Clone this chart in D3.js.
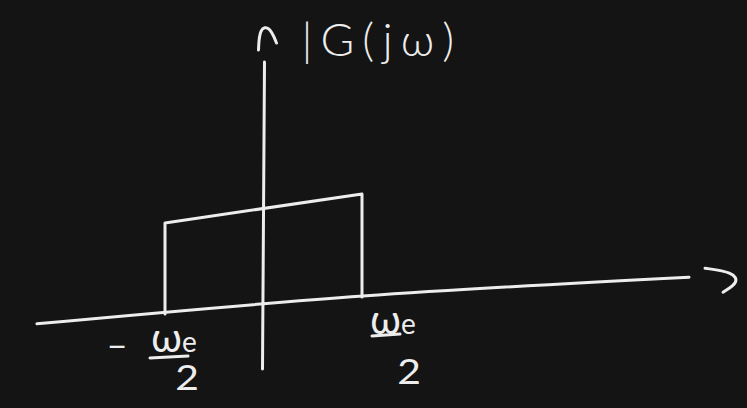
<!DOCTYPE html>
<html><head><meta charset="utf-8">
<script src="https://cdn.jsdelivr.net/npm/d3@7"></script>
<style>html,body{margin:0;padding:0;background:#141414;}svg{display:block;}</style>
</head><body>
<script>
// ---- data ----
const edgeFreqs = [-0.5, 0.5];          // band edges, in units of ω_e
const edgeMags  = [0.88, 1.03];         // drawn height of |G(jω)| at each edge
const xAxisExtent = [-1.15, 2.16];      // frequency span of the horizontal axis
const xAxisSag = [-0.04, 0.01, -0.03];  // hand-drawn droop of the axis at left / middle / right
const yAxisExtent = [-0.65, 2.42];      // magnitude span of the vertical axis
const edgeLabels = ["−", ""];           // sign in front of each edge label
const labelNum = "ω", labelSub = "e", labelDen = "2";
const axisLabel = "|G(jω)";

const W = 747, H = 408, ink = "#ededed", skew = -0.07;
const font = "Lato, 'DejaVu Sans', sans-serif";
const svg = d3.select("body").append("svg").attr("width", W).attr("height", H);
svg.append("rect").attr("width", W).attr("height", H).attr("fill", "#141414");

const x = d3.scaleLinear().domain([-0.5, 0.5]).range([165, 362]);
const y = d3.scaleLinear().domain([0, 1]).range([304, 204]);
const P = (f, m) => [x(f), y(m) + skew * (x(f) - x(0))];
const line = d3.line();
const g = svg.append("g").attr("fill", "none").attr("stroke", ink)
  .attr("stroke-width", 3).attr("stroke-linecap", "round").attr("stroke-linejoin", "round");

// horizontal axis
g.append("path").attr("d", d3.line().curve(d3.curveMonotoneX)([
  P(xAxisExtent[0], xAxisSag[0]), P((xAxisExtent[0] + xAxisExtent[1]) / 2, xAxisSag[1]), P(xAxisExtent[1], xAxisSag[2])]));
// vertical axis
g.append("path").attr("d", line([[x(0) + 1, y(yAxisExtent[1])], [x(0) - 1, y(yAxisExtent[0])]]));

// spectrum rectangle
const rect = [P(edgeFreqs[0], -0.03), P(edgeFreqs[0], edgeMags[0]), P(edgeFreqs[1], edgeMags[1]), P(edgeFreqs[1], 0)];
g.append("path").attr("d", line(rect));

// arrowheads
const topTip = [x(0) + 4, y(yAxisExtent[1]) - 34];
g.append("path").attr("d", d3.line().curve(d3.curveBasis)([
  [topTip[0] - 9, topTip[1] + 22], [topTip[0] - 8, topTip[1]], [topTip[0] + 2, topTip[1] - 2], [topTip[0] + 9, topTip[1] + 15]]));
const rEnd = P(xAxisExtent[1], xAxisSag[2]);
const rTip = [rEnd[0] + 16, rEnd[1] - 9];
g.append("path").attr("d", d3.line().curve(d3.curveBasis)([
  rTip, [rTip[0] + 28, rTip[1] + 4], [rTip[0] + 34, rTip[1] + 14], [rTip[0] + 18, rTip[1] + 24]]));

// axis label
svg.append("text").attr("x", x(0) + 38).attr("y", y(yAxisExtent[1]) - 6)
  .attr("fill", ink).attr("font-family", font).attr("font-weight", 300)
  .attr("font-size", 46).attr("letter-spacing", 8).text(axisLabel);

// edge labels as fractions
const labOff = [{num: [174, 352], bar: [150, 188, 358], den: [187, 390], sign: [117, 359]},
                {num: [393, 334], bar: [372, 400, 336], den: [409, 384], sign: null}];
edgeFreqs.forEach((f, i) => {
  const o = labOff[i];
  const t = svg.append("text").attr("x", o.num[0]).attr("y", o.num[1]).attr("text-anchor", "middle")
    .attr("fill", ink).attr("font-family", font).attr("font-size", 40);
  t.append("tspan").text(labelNum);
  t.append("tspan").attr("font-size", 28).text(labelSub);
  svg.append("line").attr("x1", o.bar[0]).attr("x2", o.bar[1]).attr("y1", o.bar[2]).attr("y2", o.bar[2] - 2)
    .attr("stroke", ink).attr("stroke-width", 3).attr("stroke-linecap", "round");
  svg.append("text").attr("x", o.den[0]).attr("y", o.den[1]).attr("text-anchor", "middle")
    .attr("fill", ink).attr("font-family", font).attr("font-size", 34).attr("transform", `scale(1.2,1) translate(${-o.den[0] / 6},0)`).text(labelDen);
  if (o.sign && edgeLabels[i]) svg.append("text").attr("x", o.sign[0]).attr("y", o.sign[1]).attr("text-anchor", "middle")
    .attr("fill", ink).attr("font-family", font).attr("font-size", 34).text(edgeLabels[i]);
});
</script>
</body></html>
